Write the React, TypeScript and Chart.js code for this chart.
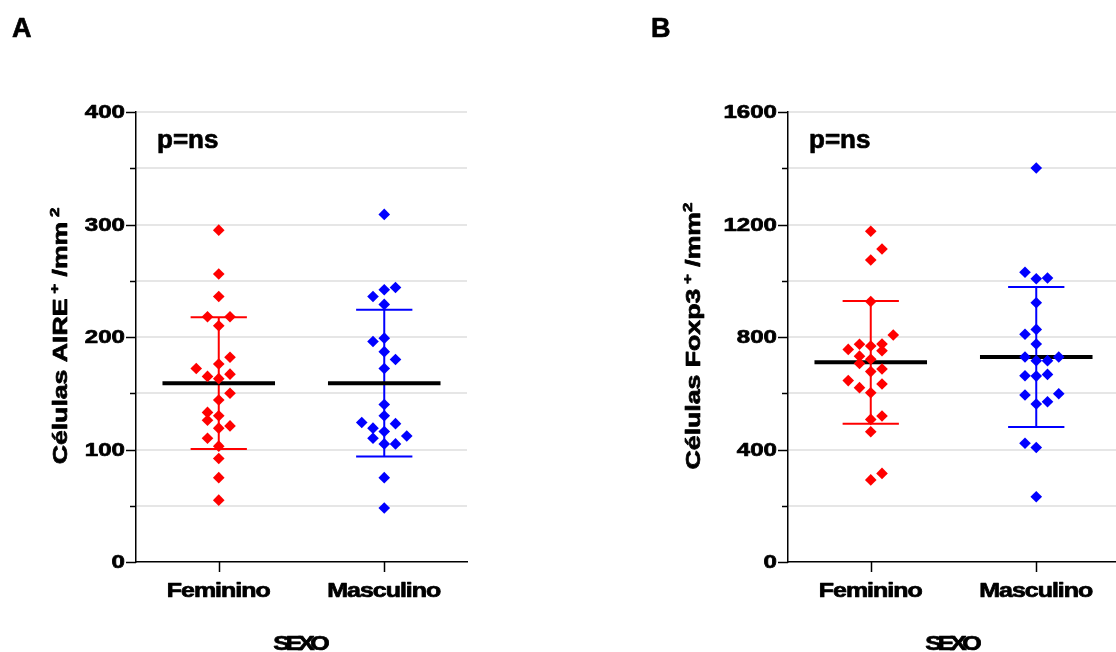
import React, { useEffect, useRef } from "react";
import { Chart, registerables } from "chart.js";

Chart.register(...registerables);

// ---------- data ----------
const groups = ["Feminino", "Masculino"];
const xAxisTitle = "SEXO";
const pLabel = "p=ns";

// Panel A: AIRE+ cells per mm²
const aireFeminino = [295, 256, 236, 218, 218, 210, 182, 176, 172, 165, 167, 163, 150, 144, 133, 130, 126, 119, 121, 110, 103, 92, 75, 55];
const aireFemininoCol = [0, 0, 0, -1, 1, 0, 1, 0, -2, -1, 1, 0, 1, 0, -1, 0, -1, 0, 1, -1, 0, 0, 0, 0];
const aireMasculino = [309, 244, 242, 236, 229, 199, 196, 187, 180, 172, 140, 130, 124, 123, 119, 116, 110, 112, 105, 105, 75, 48];
const aireMasculinoCol = [0, 1, 0, -1, 0, 0, -1, 0, 1, 0, 0, 0, -2, 1, -1, 0, -1, 2, 0, 1, 0, 0];
const aireMean = [159, 159];
const aireSd = [58.6, 65.3];
const aireMajorTicks = [0, 100, 200, 300, 400];

// Panel B: Foxp3+ cells per mm²
const foxFeminino = [1176, 1113, 1074, 926, 807, 774, 768, 775, 756, 751, 732, 721, 706, 686, 677, 645, 620, 633, 602, 519, 507, 463, 315, 292];
const foxFemininoCol = [0, 1, 0, 0, 2, -1, 0, 1, -2, 1, -1, 0, -1, 1, 0, -2, -1, 1, 0, 1, 0, 0, 1, 0];
const foxMasculino = [1401, 1030, 1007, 1010, 922, 827, 810, 775, 729, 729, 716, 716, 662, 661, 667, 594, 598, 570, 562, 422, 407, 232];
const foxMasculinoCol = [0, -1, 0, 1, 0, 0, -1, 0, -1, 2, 0, 1, -1, 0, 1, -1, 2, 1, 0, -1, 0, 0];
const foxMean = [710, 729];
const foxSd = [218, 249];
const foxMajorTicks = [0, 400, 800, 1200, 1600];

const RED = "#ff0000";
const BLUE = "#0000ff";
const FONT = '"Liberation Sans", Arial, Helvetica, sans-serif';
const TEXT_WEIGHT = 0.7; // extra outline that thickens the bold glyphs

// horizontal spacing between side-by-side points of a column scatter (x units)
const COL_STEP = 0.068;
const MEAN_HALF = 0.34;
const CAP_HALF = 0.17;

type TitlePart = { text: string; size: number; rise: number };

type PanelDef = {
  letter: string;
  title: TitlePart[];
  yMax: number;
  minorStep: number;
  majorTicks: number[];
  series: { values: number[]; cols: number[]; color: string }[];
  means: number[];
  sds: number[];
  left: number;
  width: number;
  axisLeft: number;
  padRight: number;
  titleX: number;
  letterX: number;
};

function paint(ctx: CanvasRenderingContext2D, text: string, x: number, y: number) {
  ctx.fillText(text, x, y);
  ctx.strokeText(text, x, y);
}

function drawText(
  ctx: CanvasRenderingContext2D,
  text: string,
  x: number,
  y: number,
  size: number,
  align: "left" | "center" | "right",
  baseline: CanvasTextBaseline,
  stretch = 1,
  spacing = 0
) {
  ctx.save();
  ctx.font = `bold ${size}px ${FONT}`;
  (ctx as any).letterSpacing = `${spacing}px`;
  ctx.fillStyle = "#000";
  ctx.strokeStyle = "#000";
  ctx.lineWidth = TEXT_WEIGHT;
  ctx.lineJoin = "round";
  ctx.textBaseline = baseline;
  ctx.textAlign = "left";
  const w = (ctx.measureText(text).width - spacing) * stretch;
  let sx = x;
  if (align === "center") sx = x - w / 2;
  else if (align === "right") sx = x - w;
  ctx.translate(sx, y);
  ctx.scale(stretch, 1);
  paint(ctx, text, 0, 0);
  ctx.restore();
}

function drawRotatedTitle(
  ctx: CanvasRenderingContext2D,
  parts: TitlePart[],
  baseX: number,
  centerY: number,
  stretch: number
) {
  ctx.save();
  ctx.translate(baseX, centerY);
  ctx.rotate(-Math.PI / 2);
  ctx.scale(stretch, 1);
  ctx.fillStyle = "#000";
  ctx.strokeStyle = "#000";
  ctx.lineWidth = TEXT_WEIGHT;
  ctx.lineJoin = "round";
  ctx.textBaseline = "alphabetic";
  ctx.textAlign = "left";
  let total = 0;
  const widths = parts.map((p) => {
    ctx.font = `bold ${p.size}px ${FONT}`;
    const w = ctx.measureText(p.text).width;
    total += w;
    return w;
  });
  let pos = -total / 2;
  parts.forEach((p, i) => {
    ctx.font = `bold ${p.size}px ${FONT}`;
    paint(ctx, p.text, pos, -p.rise);
    pos += widths[i];
  });
  ctx.restore();
}

function makeDecor(def: PanelDef) {
  return {
    id: "decor",
    afterDraw(chart: any) {
      const { ctx, chartArea } = chart;
      const x = chart.scales.x;
      const y = chart.scales.y;
      const axisX = chartArea.left;
      ctx.save();
      ctx.strokeStyle = "#000";
      ctx.lineWidth = 1.5;
      // y tick marks: long at labelled values, short in between
      for (let v = 0; v <= def.yMax; v += def.minorStep) {
        const py = Math.round(y.getPixelForValue(v)) + 0.5;
        const major = def.majorTicks.includes(v);
        ctx.beginPath();
        ctx.moveTo(axisX - (major ? 10 : 6), py);
        ctx.lineTo(axisX, py);
        ctx.stroke();
      }
      // x tick marks at the groups
      groups.forEach((_, i) => {
        const px = Math.round(x.getPixelForValue(i + 0.5)) + 0.5;
        ctx.beginPath();
        ctx.moveTo(px, chartArea.bottom);
        ctx.lineTo(px, chartArea.bottom + 10);
        ctx.stroke();
      });
      ctx.restore();

      def.majorTicks.forEach((v) => {
        drawText(ctx, String(v), axisX - 11, y.getPixelForValue(v) + 1, 18.5, "right", "middle", 1.3);
      });
      groups.forEach((g, i) => {
        drawText(ctx, g, x.getPixelForValue(i + 0.5), 597, 19.5, "center", "alphabetic", 1.28, -0.8);
      });
      drawText(ctx, xAxisTitle, (chartArea.left + chartArea.right) / 2, 650, 20, "center", "alphabetic", 1.25, -3.5);
      drawText(ctx, pLabel, axisX + 21, 148, 26, "left", "alphabetic", 1.0);
      drawText(ctx, def.letter, def.letterX, 37, 27, "left", "alphabetic", 1.0);
      drawRotatedTitle(ctx, def.title, def.titleX, 336, 1.3);
    },
  };
}

function buildConfig(def: PanelDef): any {
  const datasets: any[] = [];
  def.series.forEach((s, i) => {
    const cx = i + 0.5;
    datasets.push({
      label: groups[i],
      data: s.values.map((v, k) => ({ x: cx + s.cols[k] * COL_STEP, y: v })),
      pointStyle: "rectRot",
      pointRadius: 5.8,
      backgroundColor: s.color,
      borderColor: s.color,
      borderWidth: 0,
      order: 1,
    });
    const m = def.means[i];
    const sd = def.sds[i];
    const seg = (pts: { x: number; y: number }[], color: string, w: number, order: number) => ({
      data: pts,
      showLine: true,
      pointRadius: 0,
      borderColor: color,
      backgroundColor: color,
      borderWidth: w,
      borderCapStyle: "butt",
      order,
    });
    datasets.push(seg([{ x: cx, y: m - sd }, { x: cx, y: m + sd }], s.color, 2, 3));
    datasets.push(seg([{ x: cx - CAP_HALF, y: m + sd }, { x: cx + CAP_HALF, y: m + sd }], s.color, 2, 3));
    datasets.push(seg([{ x: cx - CAP_HALF, y: m - sd }, { x: cx + CAP_HALF, y: m - sd }], s.color, 2, 3));
    datasets.push(seg([{ x: cx - MEAN_HALF, y: m }, { x: cx + MEAN_HALF, y: m }], "#000", 4, 2));
  });

  return {
    type: "scatter",
    data: { datasets },
    options: {
      animation: false,
      responsive: false,
      devicePixelRatio: 1,
      events: [],
      layout: { padding: { top: 112, left: 0, right: def.padRight, bottom: 0 } },
      plugins: { legend: { display: false }, tooltip: { enabled: false }, title: { display: false } },
      scales: {
        x: {
          type: "linear",
          min: 0,
          max: 2,
          ticks: { display: false },
          grid: { display: false, drawTicks: false },
          border: { display: true, color: "#000", width: 1.5 },
          afterFit: (s: any) => {
            s.height = 90;
          },
        },
        y: {
          type: "linear",
          min: 0,
          max: def.yMax,
          ticks: { display: false, stepSize: def.minorStep },
          grid: {
            drawTicks: false,
            lineWidth: 2,
            color: (c: any) => (c.tick && c.tick.value === 0 ? "rgba(0,0,0,0)" : "#e6e6e6"),
          },
          border: { display: true, color: "#000", width: 1.5 },
          afterFit: (s: any) => {
            s.width = def.axisLeft;
          },
        },
      },
    },
    plugins: [makeDecor(def)],
  };
}

const panels: PanelDef[] = [
  {
    letter: "A",
    title: [
      { text: "Células AIRE", size: 20.5, rise: 0 },
      { text: " +", size: 13, rise: 8 },
      { text: " /mm", size: 20.5, rise: 0 },
      { text: " 2", size: 13, rise: 8 },
    ],
    yMax: 400,
    minorStep: 50,
    majorTicks: aireMajorTicks,
    series: [
      { values: aireFeminino, cols: aireFemininoCol, color: RED },
      { values: aireMasculino, cols: aireMasculinoCol, color: BLUE },
    ],
    means: aireMean,
    sds: aireSd,
    left: 0,
    width: 480,
    axisLeft: 136,
    padRight: 13,
    titleX: 67,
    letterX: 12,
  },
  {
    letter: "B",
    title: [
      { text: "Células Foxp3", size: 20.5, rise: 0 },
      { text: " +", size: 13, rise: 8 },
      { text: " /mm", size: 20.5, rise: 0 },
      { text: "2", size: 13, rise: 8 },
    ],
    yMax: 1600,
    minorStep: 200,
    majorTicks: foxMajorTicks,
    series: [
      { values: foxFeminino, cols: foxFemininoCol, color: RED },
      { values: foxMasculino, cols: foxMasculinoCol, color: BLUE },
    ],
    means: foxMean,
    sds: foxSd,
    left: 560,
    width: 570,
    axisLeft: 228,
    padRight: 11,
    titleX: 140,
    letterX: 91,
  },
];

function Panel({ def }: { def: PanelDef }) {
  const ref = useRef<HTMLCanvasElement>(null);
  useEffect(() => {
    if (!ref.current) return;
    const chart = new Chart(ref.current, buildConfig(def));
    return () => chart.destroy();
  }, [def]);
  return (
    <canvas
      ref={ref}
      width={def.width}
      height={652}
      style={{ position: "absolute", left: def.left, top: 0, width: def.width, height: 652 }}
    />
  );
}

export default function App() {
  return (
    <div
      style={{
        position: "absolute",
        left: 0,
        top: 0,
        width: 1116,
        height: 652,
        overflow: "hidden",
        background: "#fff",
      }}
    >
      {panels.map((p) => (
        <Panel key={p.letter} def={p} />
      ))}
    </div>
  );
}
